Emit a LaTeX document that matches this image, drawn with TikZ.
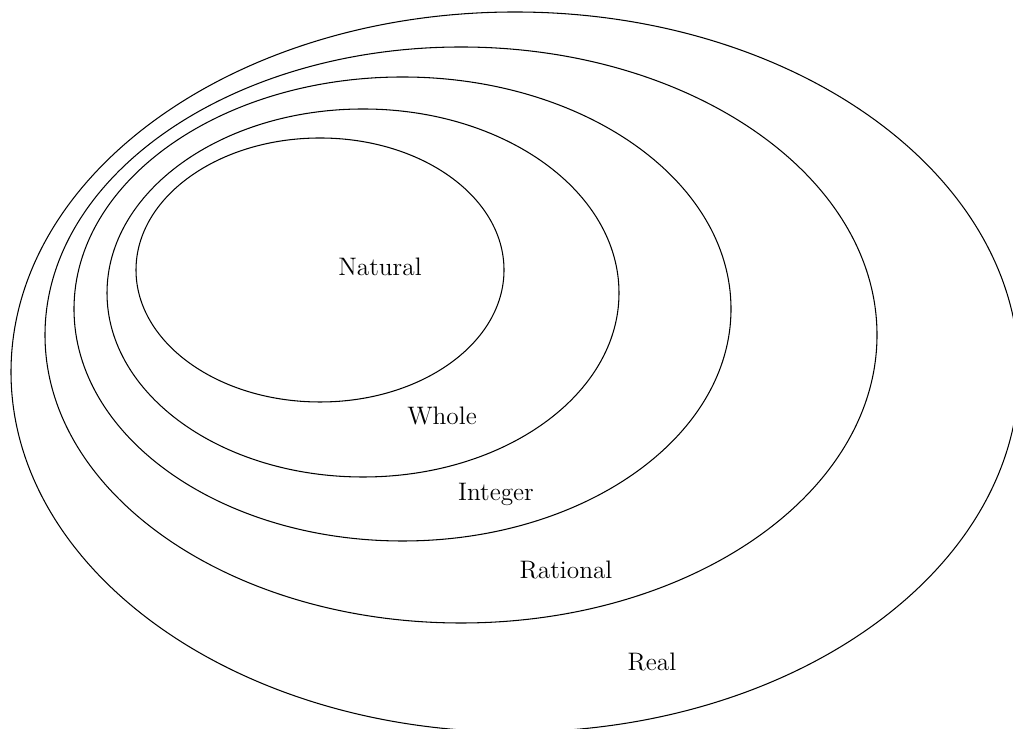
\documentclass[tikz,border=0pt]{standalone}
\usepackage{tikz}
\usetikzlibrary{positioning}

\begin{document}
\begin{tikzpicture}[
  x=0.02cm, y=0.02cm,
  font=\Large,
  setline/.style={draw=black, line width=0.6pt},
  setlabel/.style={anchor=base, inner sep=0pt}
]
  \useasboundingbox (0,0) rectangle (1013,729);
  \clip (0,0) rectangle (1013,729);

  % Real
  \draw[setline] (515,357) ellipse [x radius=504, y radius=360];
  % Rational
  \draw[setline] (461,394) ellipse [x radius=416, y radius=288];
  % Integer
  \draw[setline] (402.5,420) ellipse [x radius=328.5, y radius=232];
  % Whole
  \draw[setline] (363,436) ellipse [x radius=256, y radius=184];
  % Natural
  \draw[setline] (320,459) ellipse [x radius=184, y radius=132];

  % Labels
  \node[setlabel] (natural) at (380,453) {Natural};
  \node[setlabel] (whole) at (442,304) {Whole};
  \node[setlabel] (integer) at (496,228) {Integer};
  \node[setlabel] (rational) at (566,150) {Rational};
  \node[setlabel] (real) at (652,58) {Real};

\end{tikzpicture}
\end{document}
